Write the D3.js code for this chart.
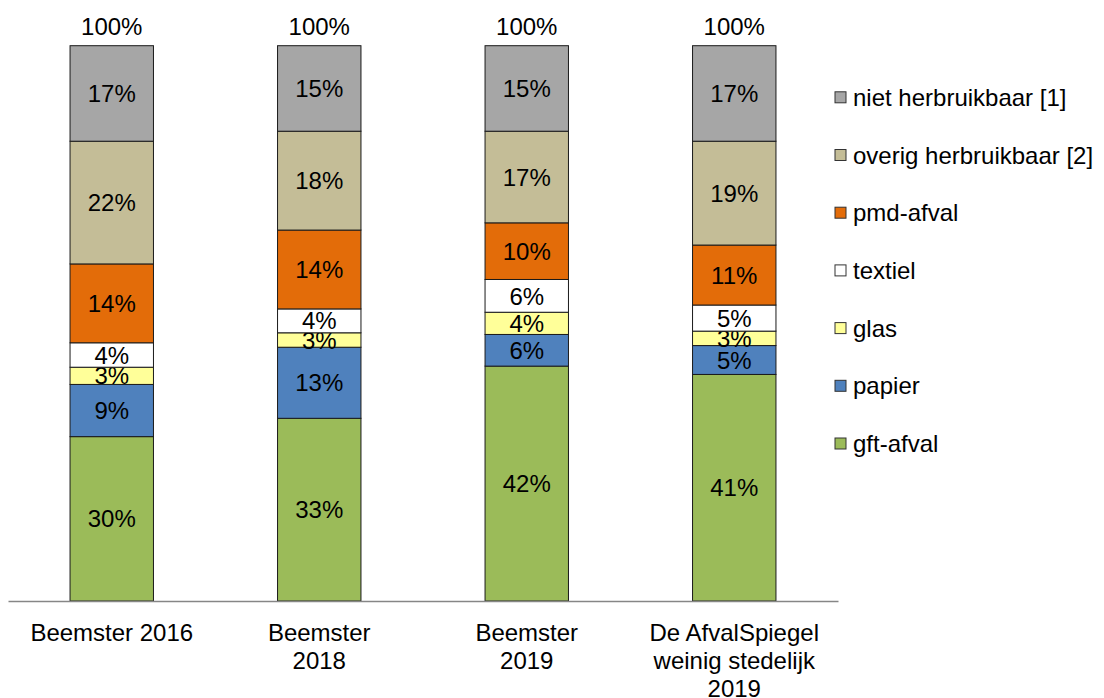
<!DOCTYPE html>
<html>
<head>
<meta charset="utf-8">
<script src="https://cdn.jsdelivr.net/npm/d3@7"></script>
<style>
  body { margin: 0; background: #fff; }
  svg { display: block; font-family: "Liberation Sans", Arial, sans-serif; }
</style>
</head>
<body>
<div id="chart"></div>
<script>
/* DATA */
const categories = ["Beemster 2016", "Beemster 2018", "Beemster 2019", "De AfvalSpiegel weinig stedelijk 2019"];
const categoryLines = [["Beemster 2016"], ["Beemster", "2018"], ["Beemster", "2019"], ["De AfvalSpiegel", "weinig stedelijk", "2019"]];
// stack order bottom -> top
const seriesNames = ["gft-afval", "papier", "glas", "textiel", "pmd-afval", "overig herbruikbaar [2]", "niet herbruikbaar [1]"];
const gft     = [29.6, 32.9, 42.3, 40.8];
const papier  = [9.4, 12.8, 5.7, 5.2];
const glas    = [3.1, 2.6, 4.0, 2.6];
const textiel = [4.4, 4.3, 5.9, 4.7];
const pmd     = [14.2, 14.2, 10.2, 10.8];
const overig  = [22.1, 17.8, 16.5, 18.7];
const niet    = [17.2, 15.4, 15.4, 17.2];
const totals  = ["100%", "100%", "100%", "100%"];

const colors = ["#9BBB59", "#4F81BD", "#FFFF99", "#FFFFFF", "#E36C09", "#C4BD97", "#A6A6A6"];

/* LAYOUT */
const width = 1104, height = 698;
const plot = { left: 8, right: 838, top: 45.7, bottom: 601 };
const fontSize = 24;

const svg = d3.select("#chart").append("svg")
  .attr("width", width)
  .attr("height", height);

const rows = categories.map((c, i) => ({
  cat: c,
  "gft-afval": gft[i],
  "papier": papier[i],
  "glas": glas[i],
  "textiel": textiel[i],
  "pmd-afval": pmd[i],
  "overig herbruikbaar [2]": overig[i],
  "niet herbruikbaar [1]": niet[i]
}));

const stacked = d3.stack().keys(seriesNames)(rows);

const xScale = d3.scaleBand()
  .domain(categories)
  .range([plot.left, plot.right])
  .paddingInner(0.598)
  .paddingOuter(0.299);

const yScale = d3.scaleLinear()
  .domain([0, 100])
  .range([plot.bottom, plot.top]);

const color = d3.scaleOrdinal().domain(seriesNames).range(colors);

// bars
const layer = svg.selectAll("g.layer")
  .data(stacked)
  .join("g")
  .attr("class", "layer")
  .attr("fill", d => color(d.key));

layer.selectAll("rect")
  .data(d => d)
  .join("rect")
  .attr("x", d => xScale(d.data.cat))
  .attr("y", d => yScale(d[1]))
  .attr("width", xScale.bandwidth())
  .attr("height", d => yScale(d[0]) - yScale(d[1]))
  .attr("stroke", "#1a1a1a")
  .attr("stroke-width", 1);

// segment labels
layer.selectAll("text")
  .data(d => d)
  .join("text")
  .attr("x", d => xScale(d.data.cat) + xScale.bandwidth() / 2)
  .attr("y", d => (yScale(d[0]) + yScale(d[1])) / 2)
  .attr("dy", "0.36em")
  .attr("text-anchor", "middle")
  .attr("fill", "#000")
  .style("font-size", fontSize + "px")
  .text(d => Math.round(d[1] - d[0]) + "%");

// totals on top
svg.selectAll("text.total")
  .data(categories)
  .join("text")
  .attr("class", "total")
  .attr("x", d => xScale(d) + xScale.bandwidth() / 2)
  .attr("y", 26)
  .attr("dy", "0.36em")
  .attr("text-anchor", "middle")
  .style("font-size", fontSize + "px")
  .text((d, i) => totals[i]);

// x axis
const xAxis = svg.append("g")
  .attr("transform", `translate(0,${plot.bottom})`)
  .call(d3.axisBottom(xScale).tickSize(0).tickFormat(""));
xAxis.select(".domain").attr("stroke", "#868686").attr("stroke-width", 1.3);

const xLabels = svg.selectAll("text.xlab")
  .data(categories)
  .join("text")
  .attr("class", "xlab")
  .attr("text-anchor", "middle")
  .style("font-size", fontSize + "px")
  .attr("transform", d => `translate(${xScale(d) + xScale.bandwidth() / 2},0)`);

xLabels.selectAll("tspan")
  .data((d, i) => categoryLines[i])
  .join("tspan")
  .attr("x", 0)
  .attr("y", (d, j) => 632 + j * 28)
  .attr("dy", "0.36em")
  .text(d => d);

// legend (top -> bottom is reverse stack order)
const legendItems = seriesNames.slice().reverse();
const legend = svg.selectAll("g.legend")
  .data(legendItems)
  .join("g")
  .attr("class", "legend")
  .attr("transform", (d, i) => `translate(835,${97.3 + i * 57.7})`);

legend.append("rect")
  .attr("x", 0)
  .attr("y", -5.5)
  .attr("width", 11)
  .attr("height", 11)
  .attr("fill", d => color(d))
  .attr("stroke", "#333")
  .attr("stroke-width", 1);

legend.append("text")
  .attr("x", 18)
  .attr("y", 0)
  .attr("dy", "0.36em")
  .style("font-size", fontSize + "px")
  .text(d => d);
</script>
</body>
</html>
